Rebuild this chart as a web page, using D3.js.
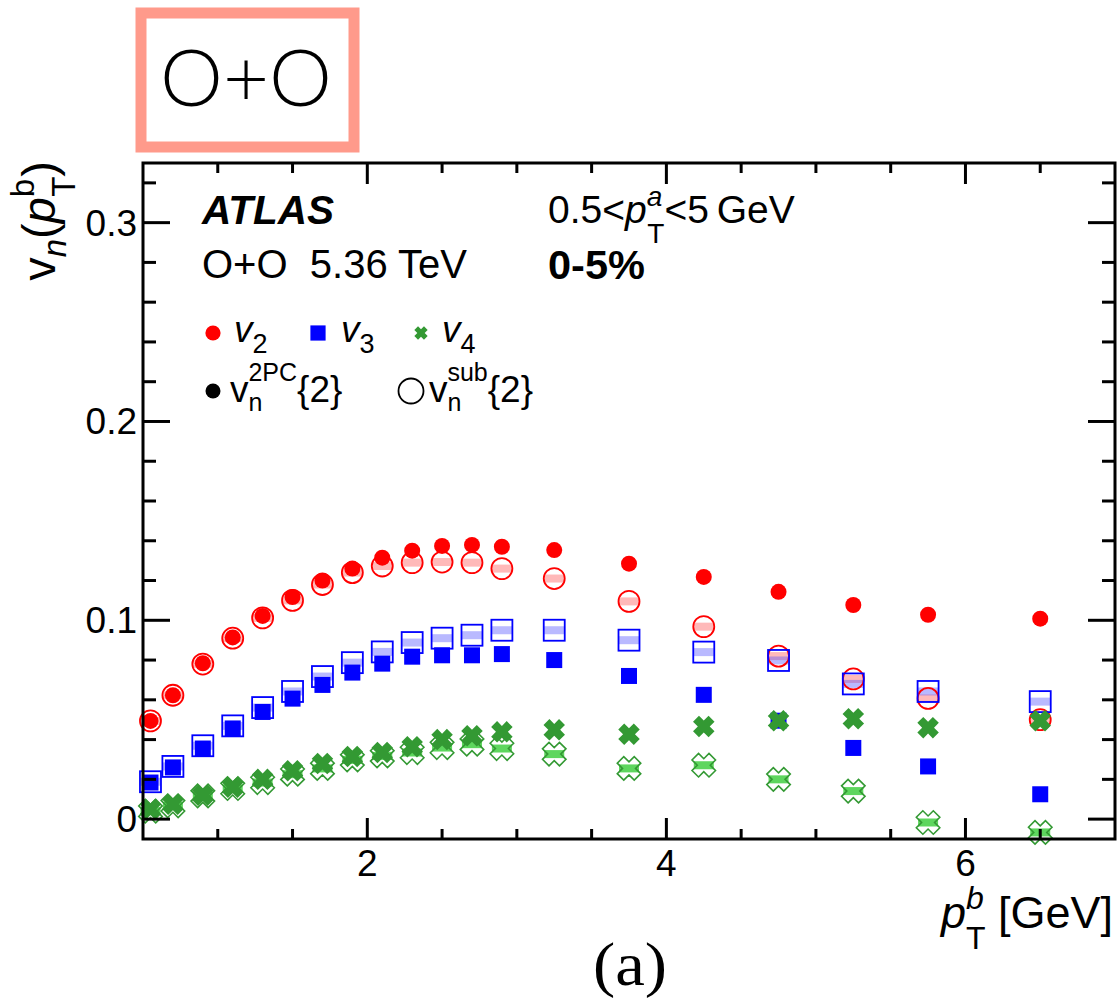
<!DOCTYPE html>
<html>
<head>
<meta charset="utf-8">
<script src="https://cdn.jsdelivr.net/npm/d3@7"></script>
<style>
  html, body { margin: 0; padding: 0; background: #fff; }
  svg { display: block; font-family: "Liberation Sans", Arial, Helvetica, sans-serif; }
</style>
</head>
<body>
<svg id="chart" width="1119" height="999"></svg>
<script>
// ---------------- data ----------------
const ptBins = [0.55, 0.7, 0.9, 1.1, 1.3, 1.5, 1.7, 1.9, 2.1, 2.3, 2.5, 2.7, 2.9, 3.25, 3.75, 4.25, 4.75, 5.25, 5.75, 6.5];

const v2_2pc = [0.0494, 0.0623, 0.0784, 0.0914, 0.1022, 0.1117, 0.1200, 0.1260, 0.1315, 0.1350, 0.1374, 0.1379, 0.1370, 0.1353, 0.1285, 0.1218, 0.1143, 0.1077, 0.1028, 0.1008];
const v2_sub = [0.0494, 0.0623, 0.0780, 0.0910, 0.1012, 0.1100, 0.1180, 0.1240, 0.1273, 0.1290, 0.1293, 0.1290, 0.1260, 0.1210, 0.1095, 0.0968, 0.0820, 0.0705, 0.0607, 0.0500];

const v3_2pc = [0.0184, 0.0260, 0.0355, 0.0456, 0.0539, 0.0606, 0.0675, 0.0737, 0.0782, 0.0817, 0.0824, 0.0824, 0.0830, 0.0800, 0.0720, 0.0625, 0.0495, 0.0358, 0.0265, 0.0125];
const v3_sub = [0.0188, 0.0265, 0.0369, 0.0469, 0.0561, 0.0642, 0.0717, 0.0787, 0.0841, 0.0888, 0.0910, 0.0925, 0.0950, 0.0950, 0.0900, 0.0840, 0.0798, 0.0680, 0.0642, 0.0591];

const v4_2pc = [0.0050, 0.0075, 0.0120, 0.0160, 0.0200, 0.0243, 0.0280, 0.0315, 0.0335, 0.0364, 0.0400, 0.0419, 0.0439, 0.0449, 0.0427, 0.0466, 0.0495, 0.0505, 0.0460, 0.0495];
const v4_sub = [0.0040, 0.0067, 0.0117, 0.0154, 0.0184, 0.0226, 0.0255, 0.0298, 0.0318, 0.0335, 0.0360, 0.0377, 0.0355, 0.0327, 0.0255, 0.0271, 0.0200, 0.0141, -0.0017, -0.0067];

const xMajorTicks = [2, 4, 6];
const xMinorTicks = [1, 1.5, 2.5, 3, 3.5, 4.5, 5, 5.5, 6.5];
const yMajorTicks = [0, 0.1, 0.2, 0.3];
const yMinorTicks = [0.02, 0.04, 0.06, 0.08, 0.12, 0.14, 0.16, 0.18, 0.22, 0.24, 0.26, 0.28, 0.32];

const seriesNames = ["v2", "v3", "v4"];
const seriesColors = { v2: "#ff0000", v3: "#0000ff", v4: "#339933" };
const bandColors = { v2: "rgba(255,80,80,0.40)", v3: "rgba(80,80,255,0.40)", v4: "rgba(40,200,40,0.75)" };

// ---------------- layout ----------------
const svg = d3.select("#chart");
const L = 143, R = 1115, T = 163, B = 839;

const x = d3.scaleLinear().domain([0.5, 7.0]).range([L, R]);
const y = d3.scaleLinear().domain([-0.01, 0.33]).range([B, T]);

// ---- top-left label box ----
svg.append("rect").attr("x", 141).attr("y", 13).attr("width", 213).attr("height", 134)
  .attr("fill", "none").attr("stroke", "#ff9a8b").attr("stroke-width", 11);
svg.append("text").attr("x", 246).attr("y", 106).attr("text-anchor", "middle")
  .attr("font-family", "Lato, 'Noto Sans', sans-serif").attr("font-size", 78).attr("font-weight", 300)
  .attr("textLength", 172).attr("lengthAdjust", "spacingAndGlyphs")
  .text("O+O");

// ---------------- marker helpers ----------------
function xPath(Lh, w) {
  const pts = [[w,Lh],[w,w],[Lh,w],[Lh,-w],[w,-w],[w,-Lh],[-w,-Lh],[-w,-w],[-Lh,-w],[-Lh,w],[-w,w],[-w,Lh]];
  const c = Math.SQRT1_2;
  return "M" + pts.map(p => [(p[0]-p[1])*c, (p[0]+p[1])*c].map(v => v.toFixed(2)).join(",")).join("L") + "Z";
}

function drawMarker(g, kind, filled, color, cx, cy, scale) {
  const s = scale || 1;
  if (kind === "v2") {
    if (filled) g.append("circle").attr("cx", cx).attr("cy", cy).attr("r", 8*s).attr("fill", color);
    else g.append("circle").attr("cx", cx).attr("cy", cy).attr("r", 10.5*s).attr("fill", "none").attr("stroke", color).attr("stroke-width", 1.8);
  } else if (kind === "v3") {
    if (filled) g.append("rect").attr("x", cx-8*s).attr("y", cy-8*s).attr("width", 16*s).attr("height", 16*s).attr("fill", color);
    else g.append("rect").attr("x", cx-10.5*s).attr("y", cy-10.5*s).attr("width", 21*s).attr("height", 21*s).attr("fill", "none").attr("stroke", color).attr("stroke-width", 1.8);
  } else {
    if (filled) g.append("path").attr("transform", `translate(${cx},${cy})`).attr("d", xPath(11*s, 4.2*s)).attr("fill", color);
    else g.append("path").attr("transform", `translate(${cx},${cy})`).attr("d", xPath(12*s, 4.6*s)).attr("fill", "none").attr("stroke", color).attr("stroke-width", 1.6);
  }
}

// ---------------- data marks ----------------
const dataSub = { v2: v2_sub, v3: v3_sub, v4: v4_sub };
const data2pc = { v2: v2_2pc, v3: v3_2pc, v4: v4_2pc };

const gBands = svg.append("g");
const gOpen = svg.append("g");
const gFilled = svg.append("g");

seriesNames.forEach(name => {
  const pts = ptBins.map((p, i) => ({ p, v: dataSub[name][i] }));
  gBands.selectAll(null).data(pts).enter().append("rect")
    .attr("x", d => x(d.p) - 10).attr("y", d => y(d.v) - 4)
    .attr("width", 20).attr("height", 8)
    .attr("fill", bandColors[name]);
});
seriesNames.forEach(name => {
  ptBins.forEach((p, i) => drawMarker(gOpen, name, false, seriesColors[name], x(p), y(dataSub[name][i])));
});
seriesNames.forEach(name => {
  ptBins.forEach((p, i) => drawMarker(gFilled, name, true, seriesColors[name], x(p), y(data2pc[name][i])));
});

// ---------------- frame and ticks ----------------
const axG = svg.append("g").attr("stroke", "#000").attr("stroke-width", 3).attr("fill", "none");
axG.append("rect").attr("x", L).attr("y", T).attr("width", R - L).attr("height", B - T);

const tickLine = (x1, y1, x2, y2) => axG.append("line").attr("x1", x1).attr("y1", y1).attr("x2", x2).attr("y2", y2);
xMajorTicks.forEach(t => { tickLine(x(t), B, x(t), B - 21); tickLine(x(t), T, x(t), T + 21); });
xMinorTicks.forEach(t => { tickLine(x(t), B, x(t), B - 10); tickLine(x(t), T, x(t), T + 10); });
yMajorTicks.forEach(t => { tickLine(L, y(t), L + 27, y(t)); tickLine(R, y(t), R - 27, y(t)); });
yMinorTicks.forEach(t => { tickLine(L, y(t), L + 13, y(t)); tickLine(R, y(t), R - 13, y(t)); });

// tick labels
svg.append("g").selectAll("text").data(yMajorTicks).enter().append("text")
  .attr("x", 137).attr("y", d => y(d) + 13).attr("text-anchor", "end")
  .attr("font-size", 37).text(d => d === 0 ? "0" : d3.format(".1f")(d));
svg.append("g").selectAll("text").data(xMajorTicks).enter().append("text")
  .attr("x", d => x(d)).attr("y", 876).attr("text-anchor", "middle")
  .attr("font-size", 37).text(d => d);

// axis titles
const xt = svg.append("text").attr("x", 1113).attr("y", 928).attr("text-anchor", "end").attr("font-size", 45);
xt.append("tspan").attr("font-style", "italic").text("p");
xt.append("tspan").attr("font-style", "italic").attr("font-size", 32).attr("dy", -19).text("b");
xt.append("tspan").attr("font-size", 32).attr("dx", -18).attr("dy", 40).text("T");
xt.append("tspan").attr("dy", -21).text(" [GeV]");

const yt = svg.append("text").attr("transform", "translate(55,161) rotate(-90)").attr("text-anchor", "end").attr("font-size", 47);
yt.append("tspan").text("v");
yt.append("tspan").attr("font-style", "italic").attr("font-size", 33).attr("dy", 11).text("n");
yt.append("tspan").attr("dy", -11).text("(");
yt.append("tspan").attr("font-style", "italic").text("p");
yt.append("tspan").attr("font-size", 33).attr("dy", -21).text("b");
yt.append("tspan").attr("font-size", 33).attr("dx", -18).attr("dy", 41).text("T");
yt.append("tspan").attr("dy", -20).text(")");

// ---------------- annotations ----------------
svg.append("text").attr("x", 202).attr("y", 224).attr("font-size", 40.5).attr("font-weight", "bold").attr("font-style", "italic").text("ATLAS");
svg.append("text").attr("x", 202).attr("y", 278).attr("font-size", 40).attr("xml:space", "preserve").text("O+O  5.36 TeV");
const kin = svg.append("text").attr("x", 548).attr("y", 223).attr("font-size", 39);
kin.append("tspan").text("0.5<");
kin.append("tspan").attr("font-style", "italic").text("p");
kin.append("tspan").attr("font-style", "italic").attr("font-size", 28).attr("dy", -17).text("a");
kin.append("tspan").attr("font-size", 28).attr("dx", -15).attr("dy", 37).text("T");
kin.append("tspan").attr("dy", -20).text("<5\u2009GeV");
svg.append("text").attr("x", 548).attr("y", 279).attr("font-size", 41.5).attr("font-weight", "bold").text("0-5%");

// ---------------- legend ----------------
const legG = svg.append("g");
const legendItems = [
  { name: "v2", sub: "2", mx: 213, tx: 234 },
  { name: "v3", sub: "3", mx: 318, tx: 341 },
  { name: "v4", sub: "4", mx: 421, tx: 442 }
];
legendItems.forEach(it => {
  drawMarker(legG, it.name, true, seriesColors[it.name], it.mx, 333, it.name === "v4" ? 0.62 : 0.95);
  const t = legG.append("text").attr("x", it.tx).attr("y", 342).attr("font-size", 37);
  t.append("tspan").attr("font-style", "italic").text("v");
  t.append("tspan").attr("font-size", 27).attr("dy", 11).text(it.sub);
});
legG.append("circle").attr("cx", 213).attr("cy", 391).attr("r", 7.5).attr("fill", "#000");
const l1 = legG.append("text").attr("x", 230).attr("y", 402).attr("font-size", 37);
l1.append("tspan").text("v");
l1.append("tspan").attr("font-size", 25).attr("dy", 9).text("n");
l1.append("tspan").attr("font-size", 25).attr("dx", -14).attr("dy", -30).text("2PC");
l1.append("tspan").attr("dy", 21).text("{2}");

legG.append("circle").attr("cx", 411).attr("cy", 391).attr("r", 12.5).attr("fill", "none").attr("stroke", "#000").attr("stroke-width", 1.8);
const l2 = legG.append("text").attr("x", 429).attr("y", 402).attr("font-size", 37);
l2.append("tspan").text("v");
l2.append("tspan").attr("font-size", 25).attr("dy", 9).text("n");
l2.append("tspan").attr("font-size", 25).attr("dx", -14).attr("dy", -30).text("sub");
l2.append("tspan").attr("dy", 21).text("{2}");

// ---------------- panel label ----------------
svg.append("text").attr("x", 630).attr("y", 985).attr("text-anchor", "middle")
  .attr("font-family", "'Liberation Serif', 'DejaVu Serif', serif").attr("font-size", 62)
  .attr("textLength", 74).attr("lengthAdjust", "spacingAndGlyphs").text("(a)");
</script>
</body>
</html>
